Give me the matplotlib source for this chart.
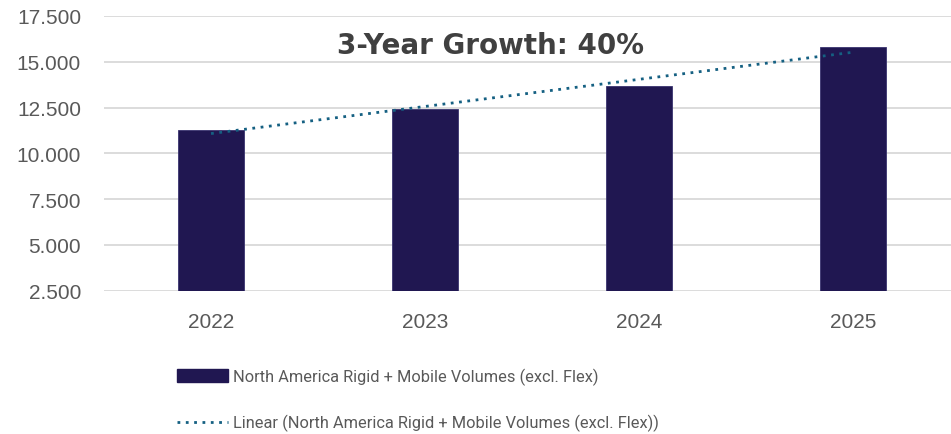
import numpy as np
import matplotlib.pyplot as plt
from matplotlib.ticker import FuncFormatter, MultipleLocator
from matplotlib.patches import Patch
from matplotlib.lines import Line2D

# Datos
anios = ["2022", "2023", "2024", "2025"]
volumenes = [11300, 12400, 13700, 15800]
serie = "North America Rigid + Mobile Volumes (excl. Flex)"
titulo = "3-Year Growth: 40%"

color_barra = "#201751"
color_tendencia = "#156082"
gris = "#595959"

fig = plt.figure(figsize=(9.51, 4.35), dpi=100)
ax = fig.add_axes([0.1094, 0.3294, 0.8906, 0.6316])

x = np.arange(len(anios))
ax.bar(x, volumenes, width=0.31, color=color_barra, edgecolor="#3a3370",
       linewidth=0.6, zorder=3)

# Linea de tendencia lineal (ajuste por minimos cuadrados)
m, b = np.polyfit(x, volumenes, 1)
ax.plot(x, m * x + b, color=color_tendencia, lw=2, linestyle=(0, (1, 2)),
        zorder=4)

ax.set_xlim(-0.5, 3.458)
ax.set_ylim(2500, 17500)
ax.yaxis.set_major_locator(MultipleLocator(2500))
ax.yaxis.set_major_formatter(FuncFormatter(lambda v, p: f"{v:,.0f}".replace(",", ".")))
ax.set_xticks(x)
ax.set_xticklabels(anios)

ax.grid(axis="y", color="#d9d9d9", lw=1.3, zorder=0)
for s in ax.spines.values():
    s.set_visible(False)
ax.tick_params(axis="both", length=0, labelsize=15, labelcolor=gris,
               labelfontfamily="Liberation Sans")
ax.tick_params(axis="y", pad=16.5)
ax.tick_params(axis="x", pad=15)

fig.text(0.516, 0.895, titulo, ha="center", va="center", fontsize=20,
         fontweight="bold", color="#404040", family="DejaVu Sans")

handles = [Patch(facecolor=color_barra, edgecolor=color_barra),
           Line2D([0], [0], color=color_tendencia, lw=2, linestyle=(0, (1, 2)))]
labels = [serie, f"Linear ({serie})"]
fig.legend(handles, labels, loc="upper left", bbox_to_anchor=(0.186, 0.153),
           frameon=False, labelcolor=gris, handlelength=3.1,
           handleheight=0.85, handletextpad=0.3, labelspacing=1.8,
           borderpad=0, borderaxespad=0,
           prop={"family": "Roboto", "size": 11.8})

fig.savefig("out.png", dpi=100)
